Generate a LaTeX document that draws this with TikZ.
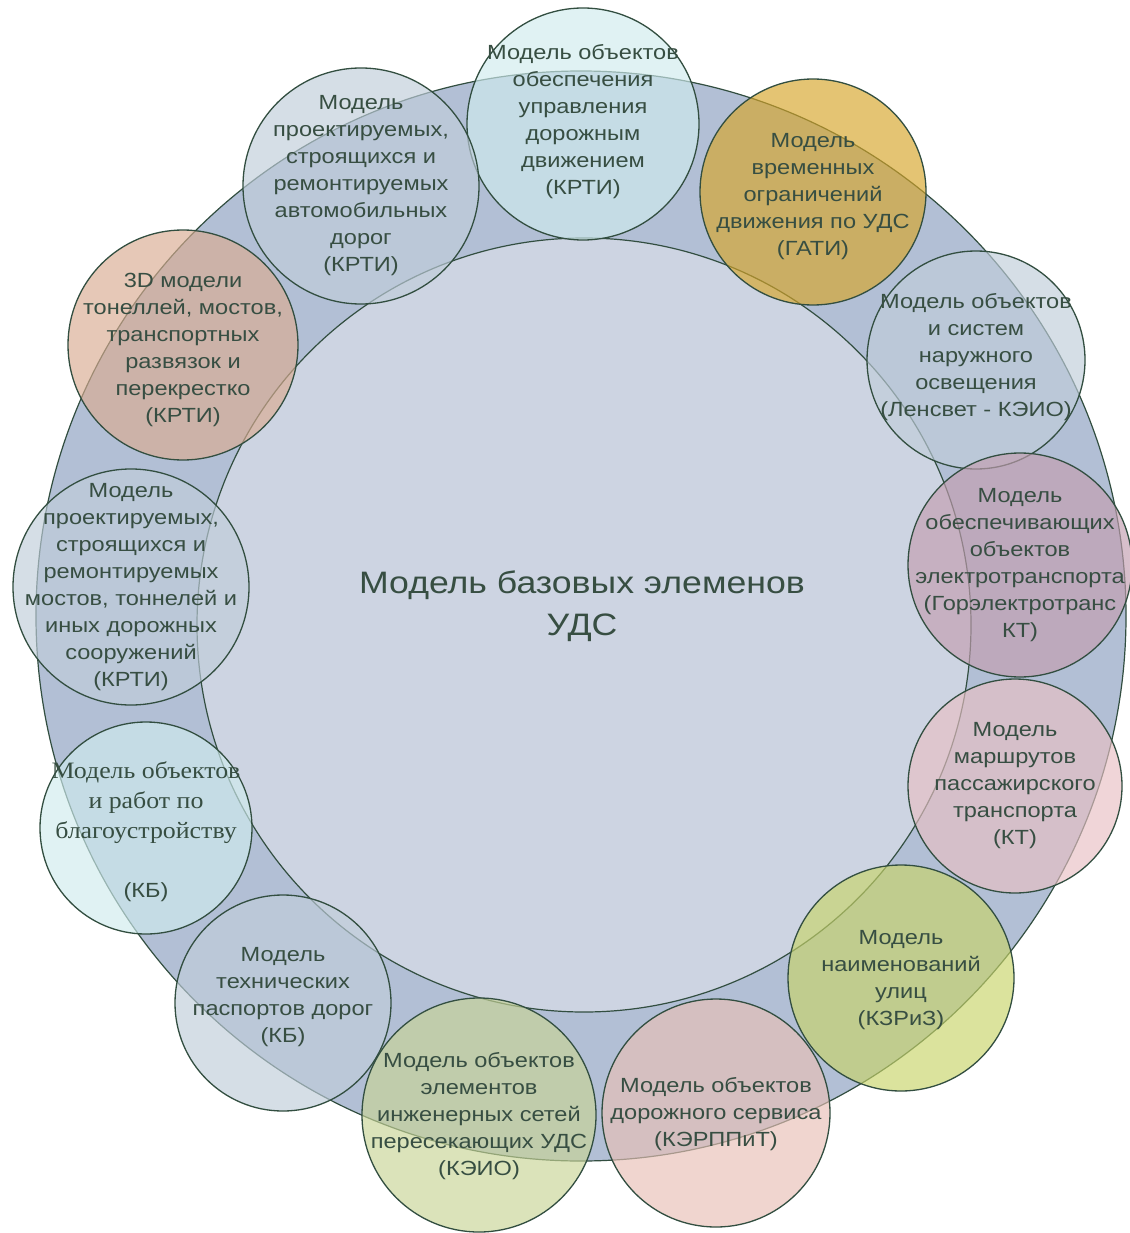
\documentclass[tikz,border=0pt]{standalone}
\usepackage{fontspec}
\setmainfont{Liberation Sans}[FakeStretch=1.15]
\newfontfamily\serifcyr{Liberation Serif}[FakeStretch=1.1]
\definecolor{ringC}{RGB}{178,191,213}
\definecolor{innerC}{RGB}{205,212,226}
\definecolor{lineC}{RGB}{50,78,64}
\definecolor{txtC}{RGB}{55,78,66}
\definecolor{cCyan}{RGB}{208,236,238}
\definecolor{cGrey}{RGB}{192,205,218}
\definecolor{cGold}{RGB}{215,165,40}
\definecolor{cMauve}{RGB}{195,158,176}
\definecolor{cPink}{RGB}{232,192,196}
\definecolor{cYG}{RGB}{200,212,105}
\definecolor{cSalmon}{RGB}{232,192,182}
\definecolor{cOlive}{RGB}{200,212,150}
\definecolor{cTan}{RGB}{218,172,145}
\begin{document}
\begin{tikzpicture}[x=1pt,y=-1pt,
  bub/.style={circle,draw=lineC,line width=1.3pt,fill opacity=0.65,text opacity=1,inner sep=0pt},
  lbl/.style={align=center,text=txtC,font=\fontsize{20.5}{27}\selectfont,inner sep=0pt},
  slbl/.style={align=center,text=txtC,font=\serifcyr\fontsize{23.5}{30}\selectfont,inner sep=0pt}]
\useasboundingbox (0,0) rectangle (1129,1233);
\fill[white] (0,0) rectangle (1129,1233);
% ring and inner disc
\node[circle,draw=lineC,line width=1.2pt,fill=ringC,minimum size=1090pt,inner sep=0pt] (outer) at (581,616) {};
\node[circle,draw=lineC,line width=1.2pt,fill=innerC,minimum size=774pt,inner sep=0pt] (inner) at (584,625) {};
\node[text=txtC,align=center,font=\fontsize{31}{42}\selectfont,inner sep=0pt] (title) at (582,606) {Модель базовых элеменов\\УДС};
% satellites
\node[bub,fill=cCyan,minimum size=232pt] (c1) at (583,124) {};
\node[lbl] (t1) at (583,122) {Модель объектов\\обеспечения\\управления\\дорожным\\движением\\(КРТИ)};
\node[bub,fill=cGrey,minimum size=236pt] (c2) at (361,186) {};
\node[lbl] (t2) at (361,186) {Модель\\проектируемых,\\строящихся и\\ремонтируемых\\автомобильных\\дорог\\(КРТИ)};
\node[bub,fill=cGold,minimum size=226pt] (c3) at (813,192) {};
\node[lbl] (t3) at (813,197) {Модель\\временных\\ограничений\\движения по УДС\\(ГАТИ)};
\node[bub,fill=cGrey,minimum size=218pt] (c4) at (976,360) {};
\node[lbl] (t4) at (976,357) {Модель объектов\\и систем\\наружного\\освещения\\(Ленсвет - КЭИО)};
\node[bub,fill=cMauve,minimum size=224pt] (c5) at (1020,565) {};
\node[lbl] (t5) at (1020,565) {Модель\\обеспечивающих\\объектов\\электротранспорта\\(Горэлектротранс\\КТ)};
\node[bub,fill=cPink,minimum size=214pt] (c6) at (1015,786) {};
\node[lbl] (t6) at (1015,786) {Модель\\маршрутов\\пассажирского\\транспорта\\(КТ)};
\node[bub,fill=cYG,minimum size=226pt] (c7) at (901,978) {};
\node[lbl] (t7) at (901,980) {Модель\\наименований\\улиц\\(КЗРиЗ)};
\node[bub,fill=cSalmon,minimum size=228pt] (c8) at (716,1113) {};
\node[lbl] (t8) at (716,1114) {Модель объектов\\дорожного сервиса\\(КЭРППиТ)};
\node[bub,fill=cOlive,minimum size=234pt] (c9) at (479,1115) {};
\node[lbl] (t9) at (479,1116) {Модель объектов\\элементов\\инженерных сетей\\пересекающих УДС\\(КЭИО)};
\node[bub,fill=cGrey,minimum size=216pt] (c10) at (283,1003) {};
\node[lbl] (t10) at (283,997) {Модель\\технических\\паспортов дорог\\(КБ)};
\node[bub,fill=cCyan,minimum size=212pt] (c11) at (146,828) {};
\node[slbl] (t11) at (146,803) {Модель объектов\\и работ по\\благоустройству};
\node[lbl] (t11b) at (146,892) {(КБ)};
\node[bub,fill=cGrey,minimum size=236pt] (c12) at (131,587) {};
\node[lbl] (t12) at (131,587) {Модель\\проектируемых,\\строящихся и\\ремонтируемых\\мостов, тоннелей и\\иных дорожных\\сооружений\\(КРТИ)};
\node[bub,fill=cTan,minimum size=230pt] (c13) at (183,345) {};
\node[lbl] (t13) at (183,350) {3D модели\\тонеллей, мостов,\\транспортных\\развязок и\\перекрестко\\(КРТИ)};
\end{tikzpicture}
\end{document}
